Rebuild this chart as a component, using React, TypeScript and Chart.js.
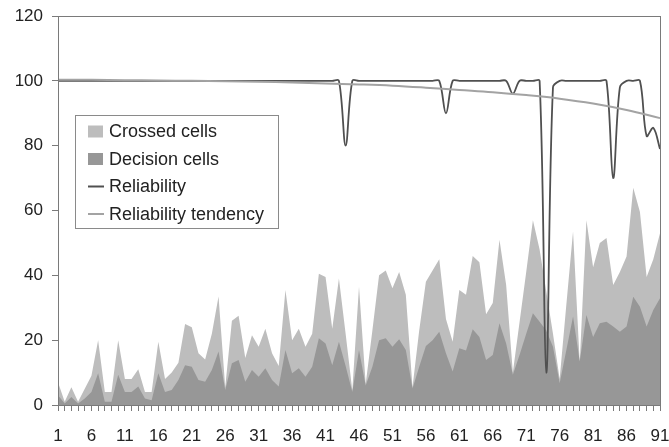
import React, { useEffect, useRef } from 'react';
import { Chart, registerables } from 'chart.js';

Chart.register(...registerables);

// ---- data ----
const categories: string[] = Array.from({ length: 91 }, (_, i) => String(i + 1));

const crossedCells: number[] = [
  7, 1, 5.5, 1, 5, 9, 20, 4, 4, 20,
  8, 8, 11, 4, 4, 19.5, 8, 10, 13, 25,
  24, 16, 14, 22, 33.5, 5.5, 26, 27.5, 14.5, 21.5,
  18, 23.5, 16, 12, 35.5, 20, 23.5, 18, 22, 40.5,
  39.5, 23.5, 39, 22, 4.5, 36.5, 6.5, 23, 40, 41.5,
  36, 41, 34, 5.5, 23, 38, 41.5, 45, 26.5, 19.5,
  35.5, 34, 46, 44, 28, 31.5, 51, 37, 10, 25.5,
  41, 57, 48, 35, 22, 8, 31, 53.5, 13, 57,
  42.5, 50, 51.5, 37, 41, 45.8, 67, 59.5, 39.5, 45,
  53,
];

const decisionCells: number[] = [
  3, 0.5, 2.5, 0.5, 2, 4, 9.8, 1, 1, 9.3,
  4, 4, 5.7, 2, 1.5, 9.8, 4, 4.6, 7.7, 12.3,
  11.8, 7.7, 7.2, 10.8, 16.5, 4.6, 12.9, 13.9, 7.2, 10.8,
  8.7, 11.3, 7.7, 5.7, 17, 9.8, 11.3, 8.7, 11.8, 20.6,
  19, 12.3, 19.5, 12, 4, 17, 6, 11.8, 20, 20.6,
  18, 20.3, 17, 5.1, 11.8, 18.2, 20, 22.6, 16, 10.3,
  17.5, 16.8, 23.4, 21, 13.9, 15.4, 25.2, 19, 9.3, 15.4,
  22, 28.3, 25.7, 23, 18, 6.7, 17, 27.3, 13.4, 27.8,
  21, 25.2, 25.7, 24.2, 22.6, 24.2, 33.4, 30.3, 24.2, 29.3,
  32.9,
];

const reliability: number[] = [
  100, 100, 100, 100, 100, 100, 100, 100, 100, 100,
  100, 100, 100, 100, 100, 100, 100, 100, 100, 100,
  100, 100, 100, 100, 100, 100, 100, 100, 100, 100,
  100, 100, 100, 100, 100, 100, 100, 100, 100, 100,
  100, 100, 100, 80, 100, 100, 100, 100, 100, 100,
  100, 100, 100, 100, 100, 100, 100, 100, 90, 100,
  100, 100, 100, 100, 100, 100, 100, 100, 96, 100,
  100, 100, 100, 10, 98, 100, 100, 100, 100, 100,
  100, 100, 100, 70, 98, 100, 100, 100, 83, 85.5,
  79,
];

const tendencyAt: string[] = ['1', '6', '11', '16', '21', '26', '31', '36', '41', '46', '51', '56', '61', '66', '71', '76', '81', '86', '91'];
const tendencyValues: number[] = [100.3, 100.3, 100.2, 100.1, 100, 99.9, 99.7, 99.5, 99.2, 98.9, 98.5, 97.9, 97.2, 96.5, 95.6, 94.5, 93, 91, 88.5];

const yTickValues: number[] = [0, 20, 40, 60, 80, 100, 120];

const legendLabels: string[] = ['Crossed cells', 'Decision cells', 'Reliability', 'Reliability tendency'];

// ---- styles ----
const FONT = '"Liberation Sans", Arial, sans-serif';
const LIGHT = '#bdbdbd';
const DARK = '#979797';
const REL = '#505050';
const TREND = '#a3a3a3';
const AXIS = '#7a7a7a';

const framePlugin = {
  id: 'frame',
  afterDatasetsDraw(chart: any) {
    const { ctx, chartArea } = chart;
    ctx.save();
    ctx.strokeStyle = AXIS;
    ctx.lineWidth = 1;
    ctx.strokeRect(Math.round(chartArea.left) + 0.5, Math.round(chartArea.top) + 0.5,
      Math.round(chartArea.right - chartArea.left), Math.round(chartArea.bottom - chartArea.top));
    ctx.restore();
  },
};

const legendPlugin = {
  id: 'insideLegend',
  afterDraw(chart: any) {
    const ctx = chart.ctx;
    ctx.save();
    ctx.fillStyle = '#ffffff';
    ctx.fillRect(75.5, 115.5, 203, 113);
    ctx.strokeStyle = '#8a8a8a';
    ctx.lineWidth = 1;
    ctx.strokeRect(75.5, 115.5, 203, 113);
    const rows = [131.5, 159, 186.5, 214];
    ctx.font = `18px ${FONT}`;
    ctx.textBaseline = 'middle';
    ctx.textAlign = 'left';
    legendLabels.forEach((label, i) => {
      const y = rows[i];
      if (i === 0 || i === 1) {
        ctx.fillStyle = i === 0 ? LIGHT : DARK;
        ctx.fillRect(88, y - 6, 15, 12);
      } else {
        ctx.strokeStyle = i === 2 ? REL : TREND;
        ctx.lineWidth = 2;
        ctx.beginPath();
        ctx.moveTo(88, y);
        ctx.lineTo(104, y);
        ctx.stroke();
      }
      ctx.fillStyle = '#222';
      ctx.fillText(label, 109, y + 1);
    });
    ctx.restore();
  },
};

export default function App() {
  const ref = useRef<HTMLCanvasElement>(null);

  useEffect(() => {
    if (!ref.current) return;
    const chart = new Chart(ref.current, {
      type: 'line',
      data: {
        labels: categories,
        datasets: [
          {
            label: 'Crossed cells',
            data: crossedCells,
            backgroundColor: LIGHT,
            borderWidth: 0,
            fill: 'origin',
            pointRadius: 0,
            tension: 0,
            order: 4,
          },
          {
            label: 'Decision cells',
            data: decisionCells,
            backgroundColor: DARK,
            borderWidth: 0,
            fill: 'origin',
            pointRadius: 0,
            tension: 0,
            order: 3,
          },
          {
            label: 'Reliability',
            data: reliability,
            borderColor: REL,
            borderWidth: 1.8,
            fill: false,
            pointRadius: 0,
            tension: 0.35,
            order: 2,
          },
          {
            label: 'Reliability tendency',
            data: tendencyAt.map((x, i) => ({ x, y: tendencyValues[i] })) as any,
            borderColor: TREND,
            borderWidth: 2,
            fill: false,
            pointRadius: 0,
            tension: 0.4,
            order: 1,
          },
        ],
      },
      options: {
        animation: false,
        responsive: false,
        devicePixelRatio: 1,
        layout: { padding: { top: 16, right: 9, left: 0, bottom: 0 } },
        plugins: {
          legend: { display: false },
          tooltip: { enabled: false },
        },
        scales: {
          x: {
            type: 'category',
            offset: false,
            grid: { display: true, drawOnChartArea: false, drawTicks: true, tickLength: 6, color: AXIS },
            border: { display: true, color: AXIS, width: 1 },
            ticks: {
              autoSkip: false,
              maxRotation: 0,
              minRotation: 0,
              padding: 15,
              color: '#222',
              font: { family: FONT, size: 17 },
              callback: (_v: any, index: number) => (index % 5 === 0 ? categories[index] : ''),
            },
            afterFit: (scale: any) => {
              scale.height = 42;
              scale.paddingLeft = 0;
              scale.paddingRight = 0;
            },
          },
          y: {
            min: 0,
            max: 120,
            afterBuildTicks: (scale: any) => { scale.ticks = yTickValues.map((v) => ({ value: v })); },
            grid: { display: true, drawOnChartArea: false, drawTicks: true, tickLength: 6, color: AXIS },
            border: { display: true, color: AXIS, width: 1 },
            ticks: {
              padding: 9,
              color: '#222',
              font: { family: FONT, size: 17 },
            },
            afterFit: (scale: any) => {
              scale.width = 58;
              scale.paddingTop = 0;
              scale.paddingBottom = 0;
            },
          },
        },
      },
      plugins: [framePlugin, legendPlugin],
    });
    return () => chart.destroy();
  }, []);

  return (
    <div style={{ position: 'fixed', left: 0, top: 0, width: 669, height: 447, background: '#fff' }}>
      <canvas ref={ref} width={669} height={447} style={{ display: 'block', width: 669, height: 447 }} />
    </div>
  );
}
